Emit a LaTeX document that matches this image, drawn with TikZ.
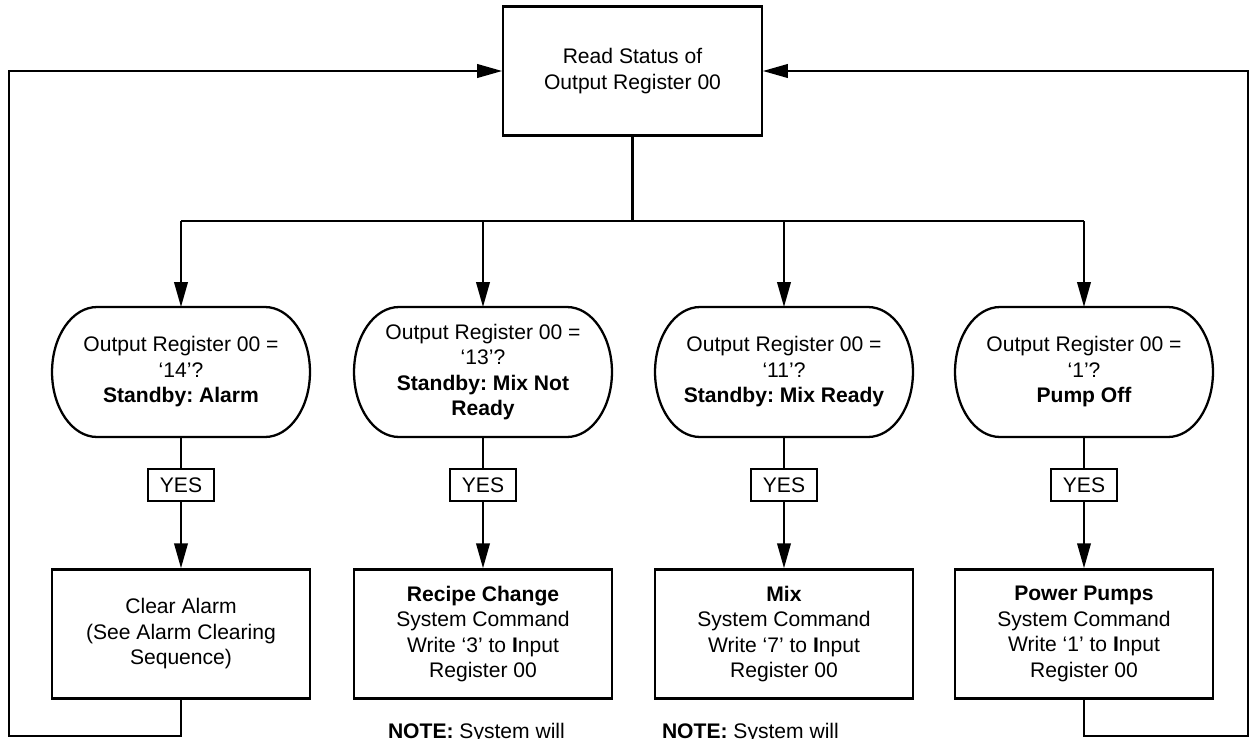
\documentclass[tikz,border=0pt]{standalone}
\usepackage{fontspec}
\setmainfont{Liberation Sans}
\usepackage{tikz}
\usetikzlibrary{arrows.meta,positioning,calc}
\frenchspacing

\begin{document}
\begin{tikzpicture}[x=0.02cm,y=0.02cm,line width=1.3pt,node distance=0.62cm,
  font=\fontsize{12}{14.5}\selectfont,
  box/.style={draw,minimum width=5.17cm,minimum height=2.58cm,align=center,inner sep=2pt},
  query/.style={minimum width=5.16cm,minimum height=2.6cm,align=center,inner sep=2pt,outer sep=0pt},
  yesbox/.style={draw,minimum width=1.32cm,minimum height=0.64cm,inner sep=1pt},
  arr/.style={-{Triangle[length=0.5cm,width=0.27cm]}}]
\useasboundingbox (0,0) rectangle (1251,-738);

\node[box] (rd) at (632.5,-71) {Read Status of\\Output Register 00};
\coordinate (bus) at (632.5,-221);

\node[query] (q1) at (181,-372) {Output Register 00 =\\‘14’?\\\textbf{Standby: Alarm}};
\node[query] (q2) at (483,-372) {Output Register 00 =\\‘13’?\\\textbf{Standby: Mix Not}\\\textbf{Ready}};
\node[query] (q3) at (784,-372) {Output Register 00 =\\‘11’?\\\textbf{Standby: Mix Ready}};
\node[query] (q4) at (1084,-372) {Output Register 00 =\\‘1’?\\\textbf{Pump Off}};

\foreach \i in {1,...,4}
  \node[yesbox,below=of q\i] (y\i) {YES};

\node[box,below=1.32cm of y1] (c1) {Clear Alarm\\(See Alarm Clearing\\Sequence)};
\node[box,below=1.32cm of y2] (c2) {\textbf{Recipe Change}\\System Command\\Write ‘3’ to \textbf{I}nput\\Register 00};
\node[box,below=1.32cm of y3] (c3) {\textbf{Mix}\\System Command\\Write ‘7’ to \textbf{I}nput\\Register 00};
\node[box,below=1.32cm of y4] (c4) {\textbf{Power Pumps}\\System Command\\Write ‘1’ to \textbf{I}nput\\Register 00};

\node[anchor=base west] (n2) at (381,-738) {\textbf{NOTE:} System will};
\node[anchor=base west] (n3) at (655,-738) {\textbf{NOTE:} System will};

\foreach \q in {q1,q2,q3,q4}
  \draw ($(\q.north west)+(0.9cm,0)$) -- ($(\q.north east)+(-0.9cm,0)$)
    arc[start angle=90,end angle=-90,x radius=0.9cm,y radius=1.3cm]
    -- ($(\q.south west)+(0.9cm,0)$)
    arc[start angle=270,end angle=90,x radius=0.9cm,y radius=1.3cm] -- cycle;

\draw (rd.south) -- (bus);
\draw (q1.north |- bus) -- (q4.north |- bus);
\foreach \i in {1,...,4}{
  \draw[arr] (q\i.north |- bus) -- (q\i.north);
  \draw (q\i.south) -- (y\i.north);
  \draw[arr] (y\i.south) -- (c\i.north);
}

\coordinate (lb) at (9,-736);
\coordinate (rb) at (1248,-736);
\draw[arr] (c1.south) |- (lb) |- (rd.west);
\draw[arr] (c4.south) |- (rb) |- (rd.east);
\end{tikzpicture}
\end{document}
